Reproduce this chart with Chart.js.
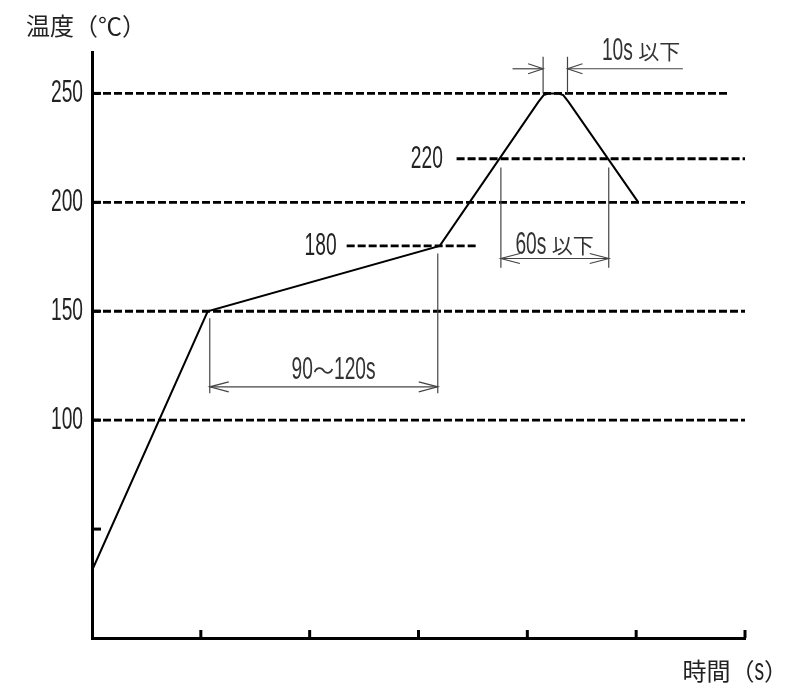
<!DOCTYPE html>
<html lang="ja">
<head>
    <meta charset="UTF-8">
    <meta name="viewport" content="width=device-width, initial-scale=1.0">

    <!-- chart.js -->
    <script src="https://cdn.jsdelivr.net/npm/chart.js"></script>

    <title>温度プロファイル</title>
    <style>
        body { margin: 0; background: #fff; }
        #wrap { width: 804px; height: 688px; }
    </style>
</head>
<body>
    <div id="wrap">
        <canvas id="chart_div" width="804" height="688"></canvas>
    </div>
    <script>
        // 温度カーブ (時間は目盛り単位)
        var curveTime = [0, 1.063, 3.195, 4.10, 4.15, 4.20, 4.28, 4.33, 4.38, 5.02];
        var curveTemp = [31, 150, 180, 246, 249.2, 250, 250, 249.2, 246, 200];

        // 破線
        var refLevels = [250, 220, 200, 180, 150, 100];
        var refStart  = [0, 3.35, 0, 2.34, 0, 0];
        var refEnd    = [5.86, 6, 6, 3.545, 6, 6];

        // 目盛り
        var yTickValues = [50, 100, 150, 200, 250];
        var yTickLabels = ['', '100', '150', '200', '250'];
        var xTickValues = [1, 2, 3, 4, 5, 6];

        // 寸法線
        var dims = [
            { x1: 1.082, x2: 3.177, y: 115.3, ext: [[1.082, 146.8, 112.4], [3.177, 176.5, 112.4]], outside: false, tail: null, label: '90～120s', lx: 2.22, ly: 122.9 },
            { x1: 3.757, x2: 4.748, y: 174.2, ext: [[3.757, 216, 170], [4.748, 216, 170]], outside: false, tail: null, label: '60s 以下', lx: 4.25, ly: 180.2 },
            { x1: 4.145, x2: 4.369, y: 261.3, ext: [[4.145, 266.8, 250], [4.369, 266.8, 250]], outside: true, tail: [3.864, 5.429], label: '10s 以下', lx: 5.045, ly: 269.6 }
        ];

        // 数値ラベル
        var levelLabels = [
            { text: '220', x: 3.224, y: 220 },
            { text: '180', x: 2.248, y: 180 }
        ];

        var SX = 0.6; // 半角文字の横幅を詰める
        var ASCII_FONT = '32px "Liberation Sans"';

        function drawText(ctx, text, x, y, align, color, cjkSize) {
            var runs = text.match(/[\x00-\x7f]+|[^\x00-\x7f]+/g);
            var cjkFont = (cjkSize || 21) + 'px "Noto Sans CJK JP"';
            var widths = [];
            var total = 0;
            ctx.save();
            ctx.fillStyle = color;
            ctx.textBaseline = 'middle';
            ctx.textAlign = 'left';
            for (var i = 0; i < runs.length; i++) {
                var ascii = /^[\x00-\x7f]+$/.test(runs[i]);
                ctx.font = ascii ? ASCII_FONT : cjkFont;
                var w = ctx.measureText(runs[i]).width * (ascii ? SX : 1);
                widths.push(w);
                total += w;
            }
            var cx = x;
            if (align === 'right') cx = x - total;
            if (align === 'center') cx = x - total / 2;
            for (var j = 0; j < runs.length; j++) {
                var isA = /^[\x00-\x7f]+$/.test(runs[j]);
                ctx.font = isA ? ASCII_FONT : cjkFont;
                if (isA) {
                    ctx.save();
                    ctx.translate(cx, y);
                    ctx.scale(SX, 1);
                    ctx.fillText(runs[j], 0, 0);
                    ctx.restore();
                } else {
                    ctx.fillText(runs[j], cx, y);
                }
                cx += widths[j];
            }
            ctx.restore();
        }

        function arrowHead(ctx, x, y, dir, len) {
            ctx.beginPath();
            ctx.moveTo(x - dir * len, y - 5);
            ctx.lineTo(x, y);
            ctx.lineTo(x - dir * len, y + 5);
            ctx.stroke();
        }

        function line(ctx, x1, y1, x2, y2) {
            ctx.beginPath();
            ctx.moveTo(x1, y1);
            ctx.lineTo(x2, y2);
            ctx.stroke();
        }

        var extras = {
            id: 'extras',
            afterDraw: function(chart) {
                var ctx = chart.ctx;
                var xs = chart.scales.x;
                var ys = chart.scales.y;
                var x0 = xs.getPixelForValue(0);
                var y0 = ys.getPixelForValue(0);

                // 内向きの目盛り
                ctx.save();
                ctx.strokeStyle = '#000';
                ctx.lineWidth = 3;
                xTickValues.forEach(function(v) {
                    var px = xs.getPixelForValue(v);
                    line(ctx, px, y0, px, y0 - 8);
                });
                yTickValues.forEach(function(v) {
                    var py = ys.getPixelForValue(v);
                    line(ctx, x0, py, x0 + 9, py);
                });
                ctx.restore();

                // 目盛りラベル
                yTickValues.forEach(function(v, i) {
                    if (yTickLabels[i]) drawText(ctx, yTickLabels[i], x0 - 9, ys.getPixelForValue(v), 'right', '#222');
                });
                levelLabels.forEach(function(l) {
                    drawText(ctx, l.text, xs.getPixelForValue(l.x), ys.getPixelForValue(l.y), 'right', '#222');
                });

                // 寸法線
                ctx.save();
                ctx.strokeStyle = '#444';
                ctx.lineWidth = 1.2;
                dims.forEach(function(d) {
                    d.ext.forEach(function(e) {
                        line(ctx, xs.getPixelForValue(e[0]), ys.getPixelForValue(e[1]), xs.getPixelForValue(e[0]), ys.getPixelForValue(e[2]));
                    });
                    var a = xs.getPixelForValue(d.x1);
                    var b = xs.getPixelForValue(d.x2);
                    var py = ys.getPixelForValue(d.y);
                    if (d.outside) {
                        line(ctx, xs.getPixelForValue(d.tail[0]), py, a, py);
                        line(ctx, b, py, xs.getPixelForValue(d.tail[1]), py);
                        arrowHead(ctx, a, py, 1, 15);
                        arrowHead(ctx, b, py, -1, 15);
                    } else {
                        line(ctx, a, py, b, py);
                        arrowHead(ctx, a, py, -1, 19);
                        arrowHead(ctx, b, py, 1, 19);
                    }
                });
                ctx.restore();
                dims.forEach(function(d) {
                    drawText(ctx, d.label, xs.getPixelForValue(d.lx), ys.getPixelForValue(d.ly), 'center', '#333');
                });

                // 軸タイトル
                drawText(ctx, '温度（℃）', 26, 26, 'left', '#222', 24);
                drawText(ctx, '時間（s）', 788, 671, 'right', '#222', 24);
            }
        };

        var datasets = [{
            data: curveTime.map(function(t, i) { return { x: t, y: curveTemp[i] }; }),
            borderColor: '#000',
            borderWidth: 2,
            pointRadius: 0,
            tension: 0,
            order: 0
        }];

        for (var k = 0; k < refLevels.length; k++) {
            datasets.push({
                data: [{ x: refStart[k], y: refLevels[k] }, { x: refEnd[k], y: refLevels[k] }],
                borderColor: '#000',
                borderWidth: 2.8,
                borderDash: [8, 3],
                pointRadius: 0,
                order: 1
            });
        }

        var config = {
            type: 'line',
            data: { datasets: datasets },
            options: {
                responsive: false,
                animation: false,
                devicePixelRatio: 1,
                layout: { padding: { left: 92, right: 59, top: 52, bottom: 50 } },
                plugins: {
                    legend: { display: false },
                    tooltip: { enabled: false }
                },
                scales: {
                    x: {
                        type: 'linear',
                        min: 0,
                        max: 6,
                        ticks: { display: false },
                        grid: { display: false, drawTicks: false },
                        border: { display: true, color: '#000', width: 3 }
                    },
                    y: {
                        type: 'linear',
                        min: 0,
                        max: 269,
                        ticks: { display: false },
                        grid: { display: false, drawTicks: false },
                        border: { display: true, color: '#000', width: 3 }
                    }
                }
            },
            plugins: [extras]
        };

        var myChart = new Chart(document.getElementById('chart_div'), config);
    </script>
</body>
</html>
